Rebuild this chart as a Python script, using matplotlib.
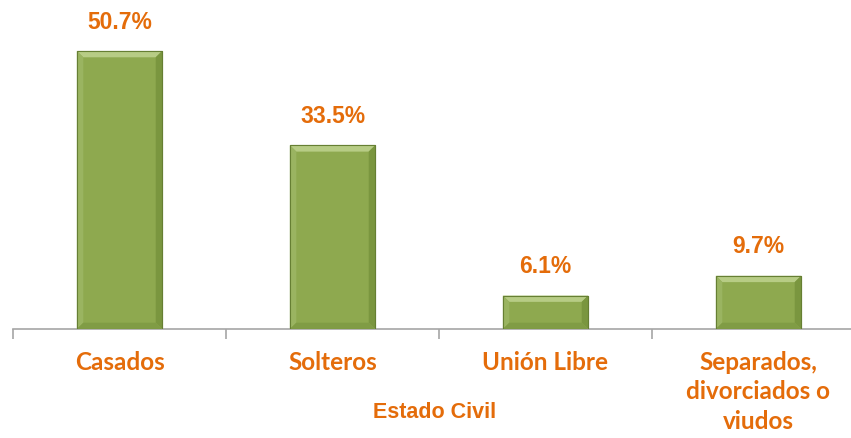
import numpy as np
import matplotlib.pyplot as plt
from matplotlib.patches import Polygon

categories = ['Casados', 'Solteros', 'Unión Libre', 'Separados,\ndivorciados o\nviudos']
values = [50.7, 33.5, 6.1, 9.7]
value_labels = ['50.7%', '33.5%', '6.1%', '9.7%']

orange = '#E46C0A'
green = '#8EA94F'
label_font = ['Liberation Sans', 'DejaVu Sans']

fig = plt.figure(figsize=(8.51, 4.38), dpi=100)
ax = fig.add_axes([13 / 851, 109 / 438, 852 / 851, 329 / 438])

x = np.arange(len(values))
w = 0.4
bars = ax.bar(x, values, width=w, color=green, edgecolor='#6B8634', linewidth=0.8, zorder=2)

# bevel effect on each bar
bx = 0.03   # bevel width in data units (x)
by = 1.15   # bevel height in data units (y)
for xi, v in zip(x, values):
    l, r = xi - w / 2, xi + w / 2
    top = [(l, v), (r, v), (r - bx, v - by), (l + bx, v - by)]
    left = [(l, 0), (l, v), (l + bx, v - by), (l + bx, by)]
    right = [(r, 0), (r, v), (r - bx, v - by), (r - bx, by)]
    bottom = [(l, 0), (r, 0), (r - bx, by), (l + bx, by)]
    ax.add_patch(Polygon(top, closed=True, fc='#B7CC85', ec='none', zorder=3))
    ax.add_patch(Polygon(left, closed=True, fc='#9AB461', ec='none', zorder=3))
    ax.add_patch(Polygon(right, closed=True, fc='#7A963F', ec='none', zorder=3))
    ax.add_patch(Polygon(bottom, closed=True, fc='#809C45', ec='none', zorder=3))
    ax.add_patch(Polygon([(l, 0), (l, v), (r, v), (r, 0)], closed=True, fill=False,
                         ec='#667F33', lw=0.8, zorder=4))

for xi, v, lab in zip(x, values, value_labels):
    ax.annotate(lab, (xi, v), xytext=(0, 12.5), textcoords='offset points',
                ha='center', va='bottom', color=orange, fontsize=16.5,
                fontweight='bold', family=label_font)

ax.set_xlim(-0.5, len(values) - 0.5)
ax.set_ylim(0, 60)
for s in ['top', 'right', 'left']:
    ax.spines[s].set_visible(False)
ax.spines['bottom'].set_color('#A6A6A6')
ax.spines['bottom'].set_linewidth(1.2)
ax.set_yticks([])
ax.set_xticks(np.arange(len(values) + 1) - 0.5)
ax.set_xticklabels([])
ax.tick_params(axis='x', direction='out', length=7, color='#A6A6A6', width=1.2)

for xi, c in zip(x, categories):
    ax.text(xi, -0.068, c, transform=ax.get_xaxis_transform(), ha='center', va='top',
            color=orange, fontsize=17.5, fontweight='bold', family='Lato', linespacing=1.32)

fig.text(435 / 851, 1 - 413 / 438, 'Estado Civil', ha='center', va='center',
         color=orange, fontsize=15.5, fontweight='bold', family=label_font)

fig.savefig('out.png', dpi=100)
